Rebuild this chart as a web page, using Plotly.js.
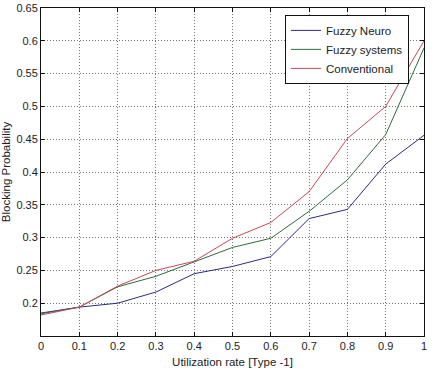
<!DOCTYPE html>
<html>
<head>
<meta charset="utf-8">
<script src="https://cdn.plot.ly/plotly-3.0.1.min.js"></script>
<style>html,body{margin:0;padding:0;background:#fff;}#chart{width:436px;height:372px;}</style>
</head>
<body>
<div id="chart"></div>
<script>
const utilization = [0, 0.1, 0.2, 0.3, 0.4, 0.5, 0.6, 0.7, 0.8, 0.9, 1];
const fuzzyNeuro = [0.185, 0.194, 0.200, 0.217, 0.245, 0.256, 0.271, 0.329, 0.343, 0.412, 0.456];
const fuzzySystems = [0.184, 0.194, 0.225, 0.241, 0.263, 0.285, 0.299, 0.340, 0.388, 0.457, 0.589];
const conventional = [0.182, 0.194, 0.226, 0.250, 0.264, 0.299, 0.323, 0.370, 0.451, 0.500, 0.600];
const yTicks = [0.2, 0.25, 0.3, 0.35, 0.4, 0.45, 0.5, 0.55, 0.6, 0.65];
const yTickLabels = ['0.2', '0.25', '0.3', '0.35', '0.4', '0.45', '0.5', '0.55', '0.6', '0.65'];
const xTicks = [0, 0.1, 0.2, 0.3, 0.4, 0.5, 0.6, 0.7, 0.8, 0.9, 1];
const xTickLabels = ['0', '0.1', '0.2', '0.3', '0.4', '0.5', '0.6', '0.7', '0.8', '0.9', '1'];

const font = {family: 'Liberation Sans, Arial, sans-serif', size: 11, color: '#222'};
const titleFont = {family: 'Liberation Sans, Arial, sans-serif', size: 11.5, color: '#222'};
const traces = [
  {x: utilization, y: fuzzyNeuro, name: 'Fuzzy Neuro', mode: 'lines', line: {color: '#2c2c80', width: 1}},
  {x: utilization, y: fuzzySystems, name: 'Fuzzy systems', mode: 'lines', line: {color: '#2f6a40', width: 1}},
  {x: utilization, y: conventional, name: 'Conventional', mode: 'lines', line: {color: '#c24a58', width: 1}}
];
const axisCommon = {
  showline: true, mirror: 'ticks', linecolor: '#111', linewidth: 1,
  ticks: 'inside', ticklen: 4, tickcolor: '#111',
  showgrid: true, gridcolor: '#777', griddash: '1px,2px', gridwidth: 1,
  zeroline: false, tickfont: font
};
const layout = {
  width: 436, height: 372,
  margin: {l: 41, r: 12, t: 8, b: 36},
  paper_bgcolor: '#fff', plot_bgcolor: '#fff',
  font: font,
  showlegend: true,
  legend: {x: 0.637, y: 0.979, xanchor: 'left', yanchor: 'top',
    bordercolor: '#111', borderwidth: 1, bgcolor: '#fff',
    font: {family: 'Liberation Sans, Arial, sans-serif', size: 11.5, color: '#222'},
    tracegroupgap: 0, itemwidth: 30},
  xaxis: Object.assign({}, axisCommon, {
    range: [0, 1], tickvals: xTicks, ticktext: xTickLabels,
    title: {text: 'Utilization rate [Type -1]', font: titleFont, standoff: 6}
  }),
  yaxis: Object.assign({}, axisCommon, {
    range: [0.15, 0.65], tickvals: yTicks, ticktext: yTickLabels,
    title: {text: 'Blocking Probability', font: titleFont, standoff: 4}
  })
};
Plotly.newPlot('chart', traces, layout, {displayModeBar: false, staticPlot: true});
</script>
</body>
</html>
